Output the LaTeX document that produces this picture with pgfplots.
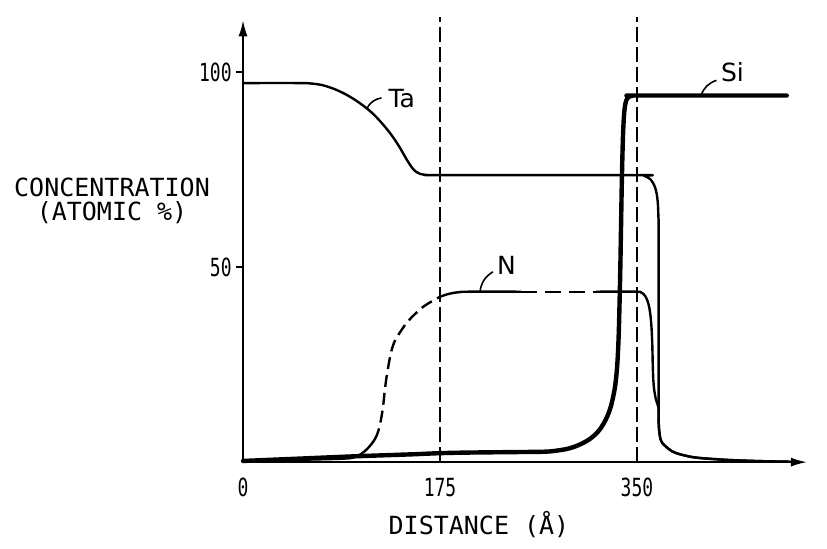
\documentclass[border=0pt]{standalone}
\usepackage{fontspec}
\setmainfont{DejaVu Sans Mono}
\newfontfamily\lblfont{DejaVu Sans}
\newfontfamily\tickfont[FakeStretch=0.72]{DejaVu Sans Mono}
\usepackage{pgfplots}
\pgfplotsset{compat=1.18}
\usetikzlibrary{arrows.meta}

\begin{document}
\begin{tikzpicture}[font=\fontsize{12.5}{15}\selectfont]
\begin{axis}[
  x=0.56285pt, y=1.95pt,
  xmin=0, xmax=501, ymin=0, ymax=113.3,
  axis lines=left,
  axis line style={line width=0.9pt, -{Latex[length=8pt,width=4.5pt]}},
  clip=false,
  xtick={0,175,350}, ytick={50,100},
  xtick align=inside, ytick align=outside,
  major tick length=3.5pt,
  tick style={line width=0.8pt, black},
  /pgf/number format/assume math mode=true,
  tick label style={font=\fontsize{12.5}{15}\tickfont},
  xticklabel style={inner sep=0pt, anchor=north, yshift=-7.75pt},
  yticklabel style={inner sep=0pt, anchor=east, xshift=-2pt},
  xlabel={DISTANCE (Å)},
  every axis x label/.style={at={(rel axis cs:0.4184,-0.1403)}, anchor=center},
  ylabel={CONCENTRATION\\(ATOMIC \%)},
  every axis y label/.style={at={(rel axis cs:-0.2323,0.5905)}, anchor=center, align=center, font=\fontsize{12.5}{12}\selectfont},
  every axis plot/.append style={line cap=round, line join=round},
]
% bounding box of the whole figure
\path (axis cs:-215.9,-22.05) rectangle (axis cs:518.8,118.5);

% vertical dashed reference lines
\addplot[line width=1.1pt, line cap=butt, dash pattern=on 7.5pt off 2.5pt] coordinates {(175,0)(175,114.1)};
\addplot[line width=1.1pt, line cap=butt, dash pattern=on 7.5pt off 2.5pt] coordinates {(350,0)(350,114.1)};

% Ta
\addplot[line width=1.2pt, smooth, tension=0.5] coordinates {
(0,97.2)(50,97.2)(60,97.1)(70,96.7)(80,95.8)(90,94.5)(100,92.8)(110,90.7)(117,88.9)(124,86.7)(130,84.6)(135,82.6)(139,80.8)(143,78.8)(146,77.3)(148,76.4)(151,75.2)(154,74.4)(157,73.95)(161,73.7)(166,73.6)(175,73.6)
(352,73.6)(356,73.45)(359,73.1)(362,72.5)(364,71.7)(366,70.5)(367.5,68.8)(368.5,66.5)(369,63)(369.2,58)
(369.2,14)(369.3,10)(369.8,7.8)(370.8,6.0)(372.5,4.9)(376,3.9)(381,2.8)(386,2.2)(391,1.8)(398,1.35)(406,1.05)(420,0.75)(435,0.5)(460,0.25)(486,0.1)};

% N
\addplot[line width=1.2pt, smooth, tension=0.5] coordinates {
(0,0.3)(50,0.6)(80,0.8)(95,1.0)(100,1.4)(105,2.1)(110,3.3)(114,4.6)(117,5.8)};
\addplot[line width=1.2pt, smooth, tension=0.5, line cap=butt, dash pattern=on 6pt off 3pt] coordinates {
(117,5.8)(119,7.0)(121,8.8)(123,11.6)(124.5,14.5)(126,18.5)(127.5,21.8)(129,24.4)(130.5,26.8)(132,28.7)(134,30.5)(136.5,32.0)(139.5,33.3)(143,34.8)(146,35.9)(150,37.2)(154,38.3)(159,39.6)(164,40.6)(170,41.6)(175,42.4)};
\addplot[line width=1.2pt, smooth, tension=0.5] coordinates {
(175,42.4)(181,43.0)(187,43.4)(193,43.6)(199,43.7)(247,43.7)};
\addplot[line width=1.2pt, line cap=butt, dash pattern=on 8pt off 4pt] coordinates {
(247,43.7)(314,43.7)};
\addplot[line width=1.2pt, smooth, tension=0.5] coordinates {
(314,43.7)(350,43.7)(353,43.6)(355.5,43.2)(357.5,42.5)(359.5,41.2)(361,39.5)(362.2,37)(363,34)(363.6,30)(364,25)(364.5,21)(365.3,18.5)(366.5,16.5)(368,15)(369.2,14)
(369.3,10)(369.8,7.8)(370.8,6.0)(372.5,4.9)(376,3.9)(381,2.8)(386,2.2)(391,1.8)(398,1.35)(406,1.05)(420,0.75)(435,0.5)(460,0.25)(486,0.1)};

% Si
\addplot[line width=2.2pt, smooth, tension=0.5] coordinates {
(0,0.3)(50,0.9)(100,1.5)(150,2.0)(175,2.3)(200,2.45)(250,2.6)(265,2.65)(273,2.75)(280,3.0)(288,3.4)(295,4.0)(302,4.9)(308,5.9)(313,7.1)(317,8.4)(321,10.2)(324,12)(326.5,14)(328.5,16.3)(330.3,19)(331.6,22)(332.6,25.5)(333.4,30)(334,35)(334.6,42)(335.2,50)(335.8,60)(336.4,70)(337,78)(337.6,84)(338.3,88.3)(339,90.6)(340,92.3)(341.5,93.3)(343.5,93.8)(346,93.95)(350,94)(483,94)};

% labels and leaders
\draw[line width=0.8pt] (axis cs:110,90.7) to[bend left=25] (axis cs:123,93.4);
\node[font=\fontsize{12.5}{15}\lblfont] at (axis cs:141,93.3) {Ta};
\draw[line width=0.8pt] (axis cs:210.5,43.7) to[bend left=25] (axis cs:222,48.8);
\node[font=\fontsize{12.5}{15}\lblfont] at (axis cs:234,50.5) {N};
\draw[line width=0.8pt] (axis cs:407,94.1) to[bend left=25] (axis cs:420.6,97.9);
\node[font=\fontsize{12.5}{15}\lblfont] at (axis cs:434.8,100) {Si};
\end{axis}
\end{tikzpicture}
\end{document}
